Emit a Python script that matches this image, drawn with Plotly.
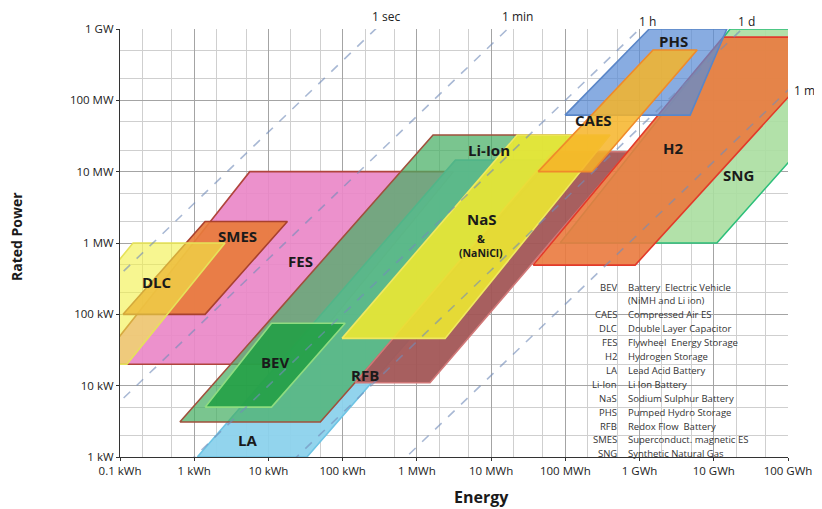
import math
import plotly.graph_objects as go

# ---------------- data (energy in kWh, rated power in kW) ----------------
# each technology: polygon vertices BL, TL, TR, BR
FES_E = [0.05, 5.6, 3100, 23]
FES_P = [20, 10000, 10000, 20]
SMES_E = [0.11, 1.4, 18, 1.4]
SMES_P = [100, 2000, 2000, 100]
DLC_E = [0.007, 0.15, 2.6, 0.124]
DLC_P = [20, 1000, 1000, 20]
LA_E = [1.1, 3300, 100000, 33]
LA_P = [1, 14500, 14500, 1]
LIION_E = [0.64, 1650, 127000, 50]
LIION_P = [3.1, 32600, 32600, 3.1]
BEV_E = [1.4, 11, 108, 11]
BEV_P = [5, 75, 75, 5]
RFB_E = [147, 68500, 700000, 1500]
RFB_P = [11, 19000, 19000, 11]
NAS_E = [98, 22400, 400000, 2400]
NAS_P = [46, 32600, 32600, 46]
SNG_E = [85000, 1.66e7, 4e9, 1.1e7]
SNG_P = [1000, 1e6, 1e6, 1000]
H2_E = [36800, 1.34e7, 5.5e8, 873000]
H2_P = [490, 7.7e5, 7.7e5, 490]
PHS_E = [99000, 1.35e6, 1.5e7, 4.8e6]
PHS_P = [62000, 1e6, 1e6, 62000]
CAES_E = [43000, 1.52e6, 5.97e6, 230000]
CAES_P = [10000, 5.07e5, 5.07e5, 10000]

# discharge durations (hours) and their labels
DUR_H = [1 / 3600, 1 / 60, 1, 24, 720]
DUR_LABELS = ["1 sec", "1 min", "1 h", "1 d", "1 m"]

X_TICKS = [0.1, 1, 10, 100, 1e3, 1e4, 1e5, 1e6, 1e7, 1e8]
X_TICK_TEXT = ["0.1 kWh", "1 kWh", "10 kWh", "100 kWh", "1 MWh", "10 MWh",
               "100 MWh", "1 GWh", "10 GWh", "100 GWh"]
Y_TICKS = [1, 10, 100, 1e3, 1e4, 1e5, 1e6]
Y_TICK_TEXT = ["1 kW", "10 kW", "100 kW", "1 MW", "10 MW", "100 MW", "1 GW"]

LEGEND_ABBR = ["BEV", "", "CAES", "DLC", "FES", "H2", "LA", "Li-Ion", "NaS",
               "PHS", "RFB", "SMES", "SNG"]
LEGEND_DESC = ["Battery  Electric Vehicle", "(NiMH and Li ion)",
               "Compressed Air ES", "Double Layer Capacitor",
               "Flywheel  Energy Storage", "Hydrogen Storage",
               "Lead Acid Battery", "Li Ion Battery", "Sodium Sulphur Battery",
               "Pumped Hydro Storage", "Redox Flow  Battery",
               "Superconduct. magnetic ES", "Synthetic Natural Gas"]

# ---------------- figure ----------------
fig = go.Figure()

# drawing order (bottom -> top), fill, border
shapes = [
    ("FES", FES_E, FES_P, "rgba(234,136,200,0.92)", "#b0443c"),
    ("SMES", SMES_E, SMES_P, "rgba(232,124,60,0.92)", "#a8402e"),
    ("DLC", DLC_E, DLC_P, "rgba(242,240,70,0.6)", "#e6e25a"),
    ("LA", LA_E, LA_P, "rgba(140,210,236,0.95)", "#6ec4e4"),
    ("Li-Ion", LIION_E, LIION_P, "rgba(70,175,100,0.72)", "#a0503c"),
    ("BEV", BEV_E, BEV_P, "rgba(36,160,70,0.9)", "#8fdc80"),
    ("RFB", RFB_E, RFB_P, "rgba(162,86,86,0.95)", "#d07878"),
    ("NaS", NAS_E, NAS_P, "rgba(236,232,50,0.9)", "#f0e860"),
    ("SNG", SNG_E, SNG_P, "rgba(170,222,160,0.9)", "#2cbf7a"),
    ("H2", H2_E, H2_P, "rgba(234,122,62,0.9)", "#e23a2a"),
    ("PHS", PHS_E, PHS_P, "rgba(90,140,214,0.72)", "#5a86c8"),
    ("CAES", CAES_E, CAES_P, "rgba(246,180,40,0.85)", "#f08a2a"),
]
for name, e, p, fc, lc in shapes:
    fig.add_trace(go.Scatter(
        x=e + [e[0]], y=p + [p[0]], mode="lines", fill="toself",
        fillcolor=fc, line=dict(color=lc, width=1.6), name=name,
        hoverinfo="skip", showlegend=False))

# duration lines P = E / t
x_line = [X_TICKS[0] / 10, X_TICKS[-1] * 10]
for t, lab in zip(DUR_H, DUR_LABELS):
    fig.add_trace(go.Scatter(
        x=x_line, y=[v / t for v in x_line], mode="lines",
        line=dict(color="rgba(115,140,185,0.62)", width=1.6, dash="dash"),
        hoverinfo="skip", showlegend=False))

# duration labels
lab_font = dict(family="Open Sans", size=12, color="#222")
shift = {"1 sec": (10, 13), "1 min": (10, 13), "1 h": (8, 8), "1 d": (4, 8)}
for t, lab in zip(DUR_H, DUR_LABELS):
    if lab == "1 m":
        fig.add_annotation(x=8, y=math.log10(1e8 / t), text=lab,
                           showarrow=False, xanchor="left", yanchor="middle",
                           xshift=4, font=lab_font)
    else:
        xs, ys = shift[lab]
        fig.add_annotation(x=math.log10(1e6 * t), y=6, text=lab,
                           showarrow=False, xanchor="center", yanchor="middle",
                           xshift=xs, yshift=ys, font=lab_font)

# technology labels (kWh, kW anchor positions)
bold = dict(family="Open Sans", size=15, color="#1a1a1a")
tech_labels = [
    ("DLC", 0.315, 283), ("SMES", 3.8, 1250), ("FES", 26.7, 557),
    ("BEV", 12.3, 21.4), ("LA", 5.15, 1.72), ("RFB", 200, 14),
    ("Li-Ion", 9.4e3, 2.0e4), ("NaS", 7.6e3, 2.2e3),
    ("CAES", 2.37e5, 5.3e4), ("PHS", 2.84e6, 6.8e5), ("H2", 2.84e6, 2.14e4),
    ("SNG", 2.13e7, 8.96e3),
]
for txt, ex, py in tech_labels:
    fig.add_annotation(x=math.log10(ex), y=math.log10(py), text="<b>%s</b>" % txt,
                       showarrow=False, xanchor="center", yanchor="middle",
                       font=bold)
fig.add_annotation(x=math.log10(7.4e3), y=math.log10(9.2e2),
                   text="<b>&</b><br><b>(NaNiCl)</b>", showarrow=False,
                   xanchor="center", yanchor="middle",
                   font=dict(family="Open Sans", size=10.5, color="#1a1a1a"))

# legend block (paper coords derived from the plot-area pixel layout)
L, R, T, B = 120, 788, 29, 457
def pxx(v):
    return (v - L) / (R - L)
def pxy(v):
    return (B - v) / (B - T)
leg_font = dict(family="Open Sans", size=9.5, color="#333")
for i, (a, d) in enumerate(zip(LEGEND_ABBR, LEGEND_DESC)):
    yy = 287 + i * 13.9
    if a:
        fig.add_annotation(xref="paper", yref="paper", x=pxx(619), y=pxy(yy),
                           text=a, showarrow=False, xanchor="right",
                           yanchor="middle", font=leg_font)
    fig.add_annotation(xref="paper", yref="paper", x=pxx(626), y=pxy(yy),
                       text=d, showarrow=False, xanchor="left",
                       yanchor="middle", font=leg_font)

# axis titles
fig.add_annotation(xref="paper", yref="paper", x=pxx(481), y=pxy(497),
                   text="<b>Energy</b>", showarrow=False,
                   xanchor="center", yanchor="middle",
                   font=dict(family="Open Sans", size=16, color="#1a1a1a"))
fig.add_annotation(xref="paper", yref="paper", x=pxx(16), y=pxy(237),
                   text="<b>Rated Power</b>", showarrow=False, textangle=-90,
                   xanchor="center", yanchor="middle",
                   font=dict(family="Open Sans", size=14, color="#1a1a1a"))

axis_common = dict(
    type="log", showgrid=True, gridcolor="#a4a4a4", gridwidth=1,
    zeroline=False, ticks="outside", ticklen=3, tickcolor="#333",
    showline=True, linecolor="#333", linewidth=1.2,
    tickfont=dict(family="Open Sans", size=11.5, color="#222"),
    minor=dict(showgrid=True, gridcolor="#cfcfcf", gridwidth=1, ticks=""),
)
fig.update_xaxes(range=[-1, 8], tickvals=X_TICKS, ticktext=X_TICK_TEXT, **axis_common)
fig.update_yaxes(range=[0, 6], tickvals=Y_TICKS, ticktext=Y_TICK_TEXT, **axis_common)

# page is shown with an 8 px body offset; margins compensate so the plot
# area lands on the reference's pixels (x 120-788, y 29-457)
fig.update_layout(
    width=822, height=509,
    margin=dict(l=112, r=42, t=21, b=60),
    plot_bgcolor="white", paper_bgcolor="white",
    showlegend=False,
)
fig.write_html("out.html")
